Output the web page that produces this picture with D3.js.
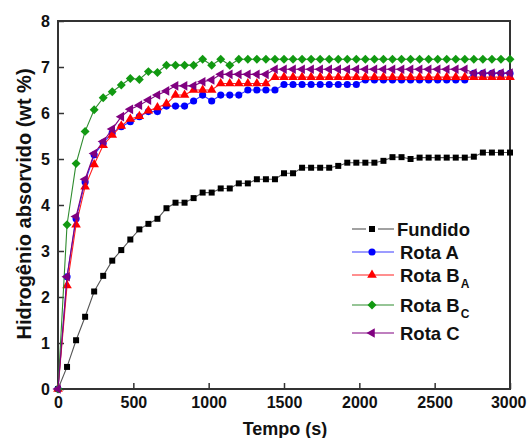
<!DOCTYPE html>
<html>
<head>
<meta charset="utf-8">
<script src="https://cdn.jsdelivr.net/npm/d3@7"></script>
<style>
    body { margin: 0; background: #fff; }
    text { font-family: "Liberation Sans", Arial, sans-serif; font-weight: bold; fill: #111; }
</style>
</head>
<body>
<svg id="chart" width="527" height="438"></svg>
<script>

// Tempo (s) of each reading
const tempo = [0, 60, 120, 180, 240, 300, 360, 420, 480, 540, 600, 660, 720, 780, 840, 900, 960, 1020,
    1080, 1140, 1200, 1260, 1320, 1380, 1440, 1500, 1560, 1620, 1680, 1740, 1800, 1860, 1920, 1980,
    2040, 2100, 2160, 2220, 2280, 2340, 2400, 2460, 2520, 2580, 2640, 2700, 2760, 2820, 2880, 2940, 3000];

// Hidrogenio absorvido (wt %) per series
const fundido = [0, 0.48, 1.06, 1.57, 2.12, 2.46, 2.79, 3.02, 3.25, 3.47, 3.59, 3.70, 3.93, 4.05, 4.05,
    4.15, 4.27, 4.27, 4.36, 4.36, 4.47, 4.47, 4.56, 4.56, 4.56, 4.69, 4.69, 4.81, 4.81, 4.81, 4.81, 4.85,
    4.92, 4.92, 4.92, 4.92, 4.96, 5.04, 5.04, 5.00, 5.03, 5.03, 5.03, 5.03, 5.03, 5.03, 5.05, 5.14, 5.14,
    5.14, 5.14];

const rotaA = [0, 2.44, 3.70, 4.50, 5.09, 5.35, 5.57, 5.70, 5.81, 5.92, 6.03, 6.03, 6.15, 6.15, 6.15,
    6.26, 6.39, 6.26, 6.39, 6.39, 6.39, 6.50, 6.50, 6.50, 6.50, 6.62, 6.62, 6.62, 6.62, 6.62, 6.62, 6.62,
    6.62, 6.62, 6.72, 6.72, 6.72, 6.72, 6.72, 6.72, 6.72, 6.72, 6.72, 6.72, 6.72, 6.72, 6.86, 6.86, 6.86,
    6.86, 6.86];

const rotaBA = [0, 2.25, 3.57, 4.40, 4.88, 5.30, 5.52, 5.72, 5.87, 5.93, 6.05, 6.12, 6.20, 6.39, 6.39,
    6.50, 6.50, 6.50, 6.64, 6.64, 6.64, 6.64, 6.64, 6.64, 6.78, 6.78, 6.78, 6.78, 6.78, 6.78, 6.78, 6.78,
    6.78, 6.78, 6.78, 6.78, 6.78, 6.78, 6.78, 6.78, 6.78, 6.78, 6.78, 6.78, 6.78, 6.78, 6.78, 6.78, 6.78,
    6.78, 6.78];

const rotaBC = [0, 3.57, 4.90, 5.60, 6.07, 6.33, 6.46, 6.61, 6.75, 6.73, 6.90, 6.88, 7.04, 7.04, 7.04,
    7.04, 7.17, 7.04, 7.17, 7.04, 7.17, 7.17, 7.17, 7.17, 7.17, 7.17, 7.17, 7.17, 7.17, 7.17, 7.17, 7.17,
    7.17, 7.17, 7.17, 7.17, 7.17, 7.17, 7.17, 7.17, 7.17, 7.17, 7.17, 7.17, 7.17, 7.17, 7.17, 7.17, 7.17,
    7.17, 7.17];

const rotaC = [0, 2.44, 3.75, 4.56, 5.12, 5.38, 5.65, 5.92, 6.08, 6.17, 6.28, 6.39, 6.48, 6.59, 6.59,
    6.59, 6.68, 6.72, 6.84, 6.84, 6.84, 6.84, 6.84, 6.84, 6.95, 6.95, 6.95, 6.95, 6.95, 6.95, 6.95, 6.95,
    6.95, 6.95, 6.95, 6.95, 6.95, 6.95, 6.95, 6.95, 6.95, 6.95, 6.95, 6.95, 6.95, 6.95, 6.87, 6.87, 6.87,
    6.87, 6.87];

const xTicks = [0, 500, 1000, 1500, 2000, 2500, 3000];
const yTicks = [0, 1, 2, 3, 4, 5, 6, 7, 8];

// Series styling (in legend order)
const series = [
    { name: 'Fundido', sub: '', values: fundido, line: '#555', fill: '#000', symbol: d3.symbolSquare, size: 36, rotate: 0 },
    { name: 'Rota A', sub: '', values: rotaA, line: '#3a3aff', fill: '#0000ff', symbol: d3.symbolCircle, size: 40, rotate: 0 },
    { name: 'Rota B', sub: 'A', values: rotaBA, line: '#ff2020', fill: '#ff0000', symbol: d3.symbolTriangle, size: 40, rotate: 0 },
    { name: 'Rota B', sub: 'C', values: rotaBC, line: '#2e8b2e', fill: '#119911', symbol: d3.symbolSquare, size: 40, rotate: 45 },
    { name: 'Rota C', sub: '', values: rotaC, line: '#800080', fill: '#800080', symbol: d3.symbolTriangle, size: 40, rotate: -90 },
];

const plotLeft = 58, plotRight = 510, plotTop = 21, plotBottom = 389;

const svg = d3.select('#chart');

const x = d3.scaleLinear().domain([0, 3000]).range([plotLeft, plotRight]);
const y = d3.scaleLinear().domain([0, 8]).range([plotBottom, plotTop]);

// Axes with inward ticks
const xAxis = svg.append('g')
    .attr('transform', `translate(0,${plotBottom})`)
    .call(d3.axisBottom(x).tickValues(xTicks).tickSize(-6).tickPadding(8).tickFormat(d3.format('d')));

const yAxis = svg.append('g')
    .attr('transform', `translate(${plotLeft},0)`)
    .call(d3.axisLeft(y).tickValues(yTicks).tickSize(-6).tickPadding(8).tickFormat(d3.format('d')));

[xAxis, yAxis].forEach(a => {
    a.select('.domain').remove();
    a.selectAll('line').attr('stroke', '#333').attr('stroke-width', 1.5);
    a.selectAll('text').style('font-size', '16px').attr('fill', '#111');
});

// last x label sits against the right edge
xAxis.selectAll('.tick').filter(d => d === 3000).select('text')
    .attr('text-anchor', 'end')
    .attr('x', 16);

// Frame
svg.append('rect')
    .attr('x', plotLeft).attr('y', plotTop)
    .attr('width', plotRight - plotLeft).attr('height', plotBottom - plotTop)
    .attr('fill', 'none').attr('stroke', '#333').attr('stroke-width', 2);

// Lines and markers
const line = d3.line()
    .x((d, i) => x(tempo[i]))
    .y(d => y(d));

series.forEach(s => {
    let g = svg.append('g');

    g.append('path')
        .datum(s.values)
        .attr('d', line)
        .attr('fill', 'none')
        .attr('stroke', s.line)
        .attr('stroke-width', 1.1);

    g.selectAll('path.mark')
        .data(s.values)
        .join('path')
        .attr('class', 'mark')
        .attr('d', d3.symbol().type(s.symbol).size(s.size))
        .attr('transform', (d, i) => `translate(${x(tempo[i])},${y(d)}) rotate(${s.rotate})`)
        .attr('fill', s.fill);
});

// Axis titles
svg.append('text')
    .attr('x', 285).attr('y', 435)
    .attr('text-anchor', 'middle')
    .style('font-size', '18px')
    .text('Tempo (s)');

svg.append('text')
    .attr('transform', 'translate(31,204) rotate(-90)')
    .attr('text-anchor', 'middle')
    .style('font-size', '20px')
    .text('Hidrogênio absorvido (wt %)');

// Legend
const legendY = [229, 252, 275, 305, 333];

const legend = svg.append('g');

series.forEach((s, i) => {
    let ly = legendY[i];
    let row = legend.append('g');

    if (i === 0) {
        // Fundido has a small gap around its marker
        row.append('line').attr('x1', 352).attr('x2', 366).attr('y1', ly).attr('y2', ly)
            .attr('stroke', s.line).attr('stroke-width', 1.1);
        row.append('line').attr('x1', 378).attr('x2', 394).attr('y1', ly).attr('y2', ly)
            .attr('stroke', s.line).attr('stroke-width', 1.1);
    } else {
        row.append('line').attr('x1', 352).attr('x2', 394).attr('y1', ly).attr('y2', ly)
            .attr('stroke', s.line).attr('stroke-width', 1.1);
    }

    row.append('path')
        .attr('d', d3.symbol().type(s.symbol).size(s.size))
        .attr('transform', `translate(372,${ly}) rotate(${s.rotate})`)
        .attr('fill', s.fill);

    let label = row.append('text')
        .attr('x', i === 0 ? 397 : 400)
        .attr('y', ly + 6.5)
        .style('font-size', '18.5px')
        .text(s.name);

    if (s.sub) {
        label.append('tspan')
            .attr('dx', 1).attr('dy', 6)
            .style('font-size', '12px')
            .text(s.sub);
    }
});

</script>
</body>
</html>
